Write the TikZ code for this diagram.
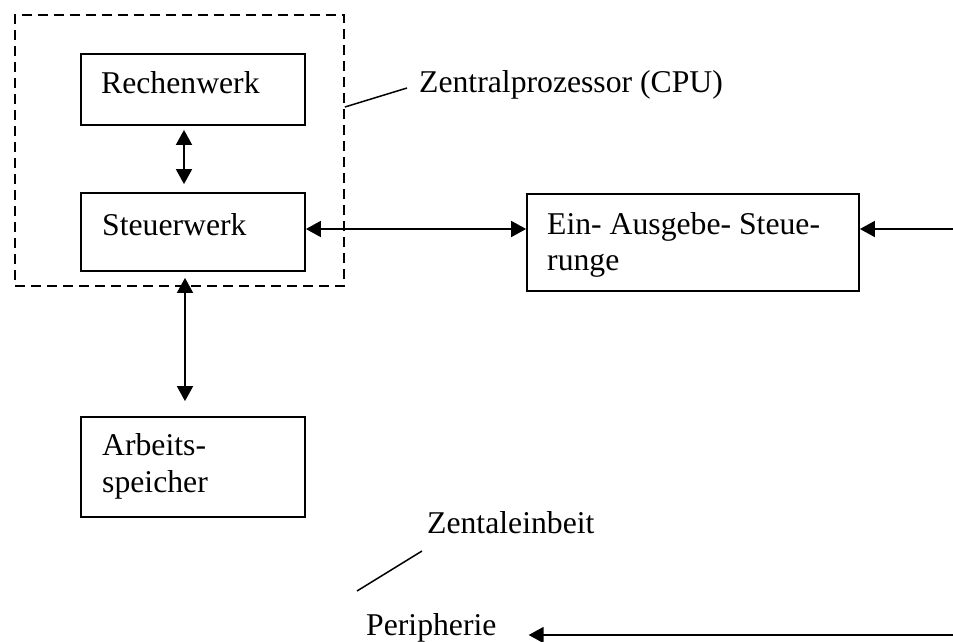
\documentclass[tikz,border=0pt]{standalone}
\usepackage{fontspec}
\setmainfont{Liberation Serif}
\usetikzlibrary{arrows.meta}
\begin{document}
\begin{tikzpicture}[x=1pt,y=-1pt,
  box/.style={draw, line width=1.8pt, inner sep=0pt},
  txt/.style={anchor=base west, inner sep=0pt, font=\fontsize{31.7}{38}\selectfont},
  conn/.style={line width=1.8pt},
  lead/.style={line width=1.5pt},
  tip/.tip={Triangle[length=15pt,width=16pt]},
  dbl/.style={conn, tip-tip},
  one/.style={conn, -tip}]
\useasboundingbox (0,0) rectangle (953,641);
% boxes
\node[box, dashed, dash pattern=on 10pt off 6pt, minimum width=329pt, minimum height=271pt] (cpu) at (179.5,150.5) {};
\node[box, minimum width=224pt, minimum height=71pt] (rw) at (193,89.5) {};
\node[box, minimum width=224pt, minimum height=78pt] (sw) at (193,232) {};
\node[box, minimum width=332pt, minimum height=97pt] (io) at (693,242.5) {};
\node[box, minimum width=224pt, minimum height=100pt] (as) at (193,467) {};
% texts
\node[txt] (t1) at (101,93) {Rechenwerk};
\node[txt] (t2) at (102,235) {Steuerwerk};
\node[txt] (t3a) at (547,234) {Ein- Ausgebe- Steue-};
\node[txt] (t3b) at (547,270) {runge};
\node[txt] (t4a) at (102,455) {Arbeits-};
\node[txt] (t4b) at (102,492) {speicher};
\node[txt] (cpuL) at (419,92) {Zentralprozessor (CPU)};
\node[txt] (zen) at (427,533) {Zentaleinbeit};
\node[txt] (per) at (366,635) {Peripherie};
% connectors
\draw[dbl] ([xshift=-9pt,yshift=-4pt]rw.south) -- ([xshift=-9pt,yshift=8pt]sw.north);
\draw[dbl] ([yshift=3pt]sw.east) -- ([yshift=3pt]sw.east -| io.west);
\coordinate (r1) at (953,229);
\draw[one] (r1) -- (r1 -| io.east);
\draw[dbl] ([xshift=-8pt,yshift=-6pt]sw.south) -- ([xshift=-8pt,yshift=15pt]as.north);
\coordinate (r2) at (953,635);
\draw[one] (r2) -- ([xshift=32pt]per.base east);
% leader lines
\draw[lead] ([yshift=43.5pt]cpu.east) -- ([xshift=-12pt,yshift=4pt]cpuL.base west);
\coordinate (z1) at (357,591);
\draw[lead] (z1) -- ([xshift=-5pt,yshift=-18pt]zen.base west);
\end{tikzpicture}
\end{document}
